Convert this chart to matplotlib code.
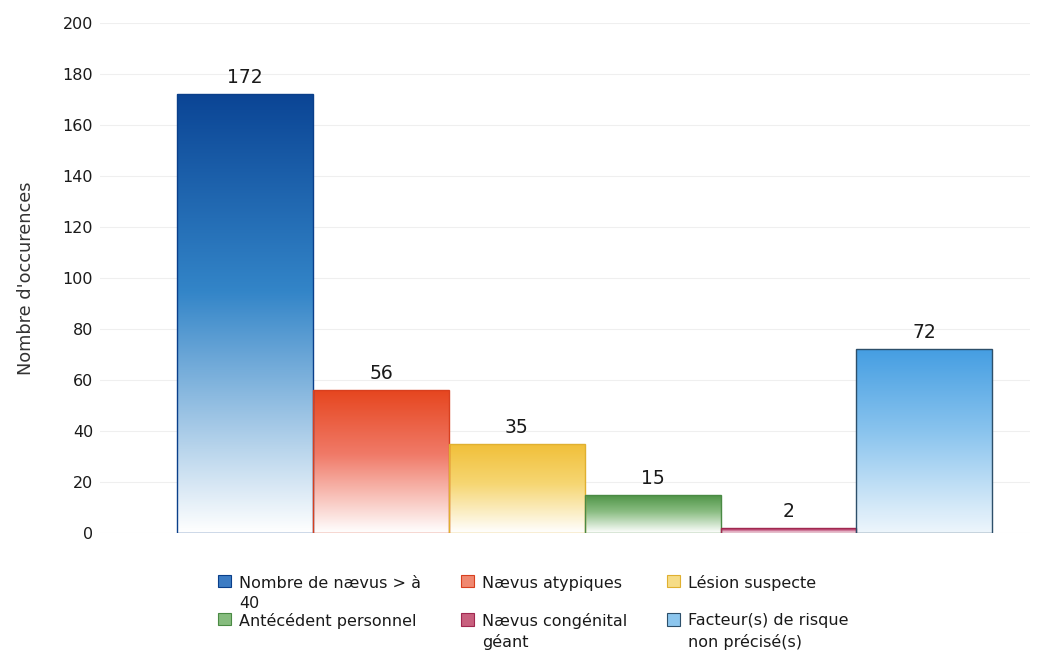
import matplotlib
matplotlib.use("Agg")
import matplotlib.pyplot as plt
import numpy as np
from matplotlib.colors import to_rgb
from matplotlib.patches import Patch, Rectangle
from matplotlib.legend_handler import HandlerPatch

categories = ["Nombre de nævus > à\n40", "Nævus atypiques", "Lésion suspecte",
              "Antécédent personnel", "Nævus congénital\ngéant",
              "Facteur(s) de risque\nnon précisé(s)"]
values = [172, 56, 35, 15, 2, 72]
top_colors = ["#0b4595", "#e6461f", "#f1bf38", "#4c9244", "#a82a55", "#459ee2"]
mid_colors = ["#3385c8", "#f07a68", "#f6d672", "#8abd82", "#c0507a", "#8ac4ee"]
bottom_colors = ["#ffffff", "#ffffff", "#ffffff", "#ffffff", "#ffffff", "#eef6fc"]
edge_colors = ["#0a3f8a", "#d8401f", "#e0b030", "#4a8a44", "#a02850", "#2d4f6a"]
legend_colors = ["#3c7cc4", "#f08870", "#f6dc86", "#86bc7e", "#c8607e", "#8cc6ee"]

plt.rcParams["font.family"] = ["DejaVu Sans"]

fig = plt.figure(figsize=(10.47, 6.69), dpi=100)
ax = fig.add_axes([0.0955, 0.2033, 0.8885, 0.7623])

x = np.arange(len(values))
bars = ax.bar(x, values, width=1.0, facecolor="none", edgecolor=edge_colors,
              linewidth=1.0, zorder=4)

# gradient fill: colour at top fading to white at the bottom
t = np.linspace(0, 1, 256)
for b, c_top, c_mid, c_bot in zip(bars, top_colors, mid_colors, bottom_colors):
    bx, by = b.get_x(), b.get_y()
    bw, bh = b.get_width(), b.get_height()
    stops = np.array([0.0, 0.55, 1.0])
    cols = np.array([to_rgb(c_bot), to_rgb(c_mid), to_rgb(c_top)])
    grad = np.stack([np.interp(t, stops, cols[:, k]) for k in range(3)], axis=1)
    img = ax.imshow(grad[:, None, :], extent=[bx, bx + bw, by, by + bh],
                    origin="lower", aspect="auto", zorder=2)
    img.set_clip_path(b)

for xi, v in zip(x, values):
    ax.annotate(str(v), (xi, v), xytext=(0, 5), textcoords="offset points",
                ha="center", va="bottom", fontsize=13.5, color="#1a1a1a")

ax.set_xlim(-1.07, 5.78)
ax.set_ylim(0, 200)
ax.set_yticks(np.arange(0, 201, 20))
ax.set_xticks([])
ax.tick_params(axis="y", length=0, labelsize=11.5, pad=5, colors="#1a1a1a")
ax.grid(axis="y", color="#ececec", linewidth=0.8, alpha=0.8, zorder=3)
for s in ax.spines.values():
    s.set_visible(False)
ax.set_ylabel("Nombre d'occurences", fontsize=12.8, color="#333333", labelpad=20)


# legend marker sits next to the first line of a two-line label
class TopSquare(HandlerPatch):
    def create_artists(self, legend, orig_handle, xdescent, ydescent,
                       width, height, fontsize, trans):
        r = Rectangle((-xdescent, -ydescent + 0.78 * fontsize), width, height,
                      facecolor=orig_handle.get_facecolor(),
                      edgecolor=orig_handle.get_edgecolor(), linewidth=0.8,
                      transform=trans)
        return [r]


labels = [lab if "\n" in lab else lab + "\n" + " " for lab in categories]
handles = [Patch(facecolor=lc, edgecolor=ec) for lc, ec in zip(legend_colors, edge_colors)]
order = [0, 3, 1, 4, 2, 5]
leg = fig.legend([handles[i] for i in order], [labels[i] for i in order],
                 ncol=3, loc="upper left", bbox_to_anchor=(0.201, 0.152),
                 frameon=False, fontsize=11.5, handlelength=0.8, handleheight=0.8,
                 handletextpad=0.5, columnspacing=2.5, labelspacing=0.15,
                 borderpad=0, labelcolor="#1a1a1a",
                 handler_map={Patch: TopSquare()})
for txt in leg.get_texts():
    txt.set_linespacing(1.4)

fig.savefig("out.png", dpi=100)
